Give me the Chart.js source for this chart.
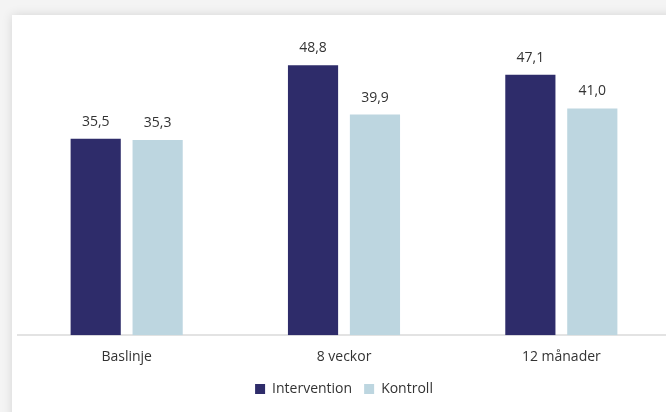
<!DOCTYPE html>
<html>
<head>
<meta charset="utf-8">
<script src="https://cdn.jsdelivr.net/npm/chart.js@4"></script>
<style>
  html, body { margin: 0; padding: 0; background: #f4f4f4; overflow: hidden; }
  .card {
    position: absolute; left: 12px; top: 15px; width: 700px; height: 420px;
    background: #fff; box-shadow: 0 0 10px rgba(0,0,0,0.13);
  }
  .wrap { position: absolute; left: 0; top: 0; width: 690px; height: 412px; }
</style>
</head>
<body>
<div class="card"></div>
<div class="wrap"><canvas id="chart"></canvas></div>
<script>
// values
const categories = ['Baslinje', '8 veckor', '12 månader'];
const intervention = [35.5, 48.8, 47.1];
const kontroll = [35.3, 39.9, 41.0];
const seriesNames = ['Intervention', 'Kontroll'];

const valueLabels = {
    id: 'valueLabels',
    afterDatasetsDraw(chart) {
        const ctx = chart.ctx;
        ctx.save();
        ctx.font = '14px "Open Sans"';
        ctx.fillStyle = '#333';
        ctx.textAlign = 'center';
        ctx.textBaseline = 'alphabetic';
        chart.data.datasets.forEach((ds, i) => {
            chart.getDatasetMeta(i).data.forEach((bar, j) => {
                ctx.fillText(ds.data[j].toFixed(1).replace('.', ','), bar.x, bar.y - 13);
            });
        });
        ctx.restore();
    }
};

const ctx = document.getElementById('chart').getContext('2d');
const chart = new Chart(ctx, {
    type: 'bar',
    data: {
        labels: categories,
        datasets: [{
            label: seriesNames[0],
            data: intervention,
            backgroundColor: '#2e2c6a',
            categoryPercentage: 0.57,
            barPercentage: 0.81
        }, {
            label: seriesNames[1],
            data: kontroll,
            backgroundColor: '#bdd6e0',
            categoryPercentage: 0.57,
            barPercentage: 0.81
        }]
    },
    options: {
        responsive: true,
        maintainAspectRatio: false,
        animation: false,
        layout: { padding: { left: 18, right: 20, top: 31, bottom: 6 } },
        plugins: {
            tooltip: { enabled: false },
            legend: {
                position: 'bottom',
                labels: {
                    boxWidth: 10,
                    boxHeight: 10,
                    padding: 12,
                    color: '#333',
                    font: { family: 'Open Sans', size: 14 }
                }
            }
        },
        scales: {
            x: {
                grid: { display: false },
                border: { color: '#e3e3e3', width: 2 },
                ticks: {
                    color: '#333',
                    padding: 5,
                    font: { family: 'Open Sans', size: 14 }
                }
            },
            y: {
                display: false,
                min: 0,
                max: 55
            }
        }
    },
    plugins: [valueLabels]
});
</script>
</body>
</html>
